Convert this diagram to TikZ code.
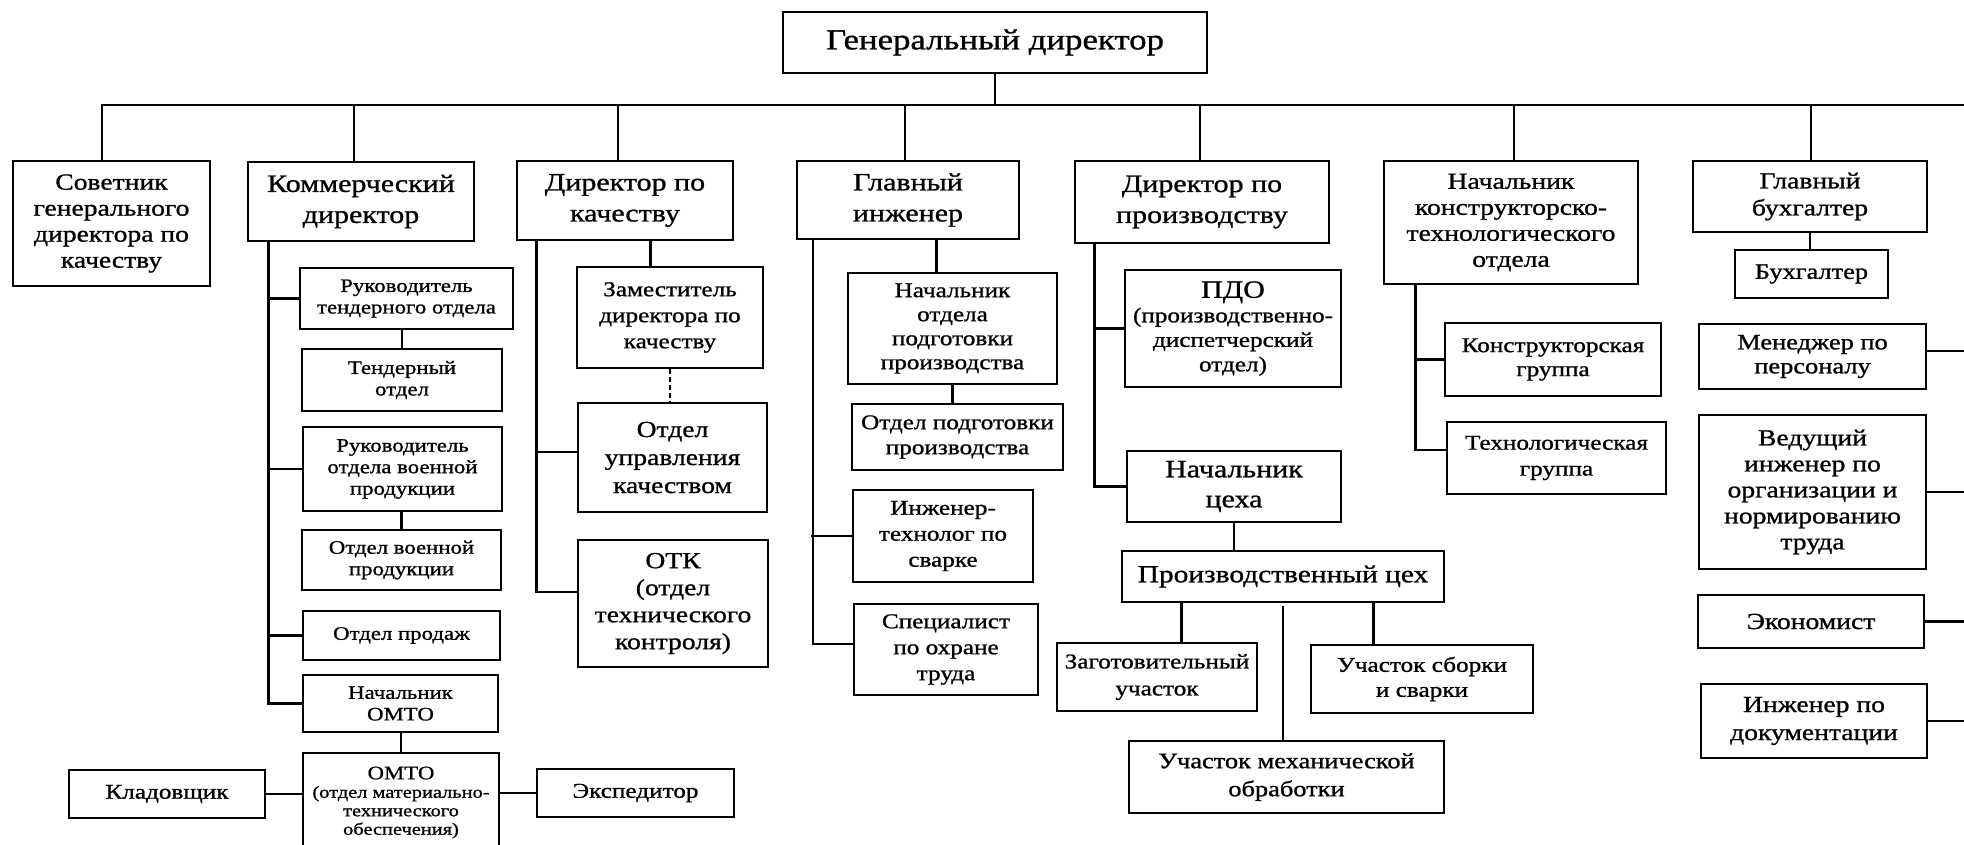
\documentclass[tikz,border=0pt]{standalone}
\usepackage{fontspec}
\setmainfont[FakeStretch=1.2,FakeBold=1]{Liberation Serif}
\usetikzlibrary{calc}
\newcommand\fs[2]{\fontsize{#1}{#2}\selectfont}
\newcommand\bx[7]{%
  \pgfmathsetmacro\bw{#4-#2}\pgfmathsetmacro\bh{#5-#3}%
  \pgfmathsetmacro\bcx{(#2+#4)/2}\pgfmathsetmacro\bcy{(#3+#5)/2}%
  \node[box,#6,minimum width=\bw pt,minimum height=\bh pt] (#1) at (\bcx,\bcy) {#7};}
\tikzset{
  box/.style={draw=black, line width=2.8pt, inner sep=0pt, align=center, fill=white},
  conn/.style={draw=black, line width=2.4pt, line cap=rect},
  fA/.style={font=\fs{29}{34}},
  fB/.style={font=\fs{25}{31}},
  fC/.style={font=\fs{23}{27}},
  fD/.style={font=\fs{21}{25}},
  fE/.style={font=\fs{19}{21.5}},
  fF/.style={font=\fs{17}{18.5}},
}
\begin{document}
\begin{tikzpicture}[x=1pt,y=-1pt]
\useasboundingbox (0,0) rectangle (1964,844);
\fill[white] (0,0) rectangle (1964,844);
\coordinate (busR) at (1964,105);
\coordinate (redge) at (1964,0);
% --- boxes
\bx{gd}{783}{12}{1207}{73}{fA}{Генеральный директор}
\bx{sov}{13}{161}{210}{286}{font=\fs{23}{26}}{Советник\\генерального\\директора по\\качеству}
\bx{kom}{248}{162}{474}{241}{fB}{Коммерческий\\директор}
\bx{dq}{517}{161}{733}{240}{fB}{Директор по\\качеству}
\bx{gi}{797}{161}{1019}{239}{fB}{Главный\\инженер}
\bx{dp}{1075}{161}{1329}{243}{fB}{Директор по\\производству}
\bx{kto}{1384}{161}{1638}{284}{font=\fs{23}{26}}{Начальник\\конструкторско-\\технологического\\отдела}
\bx{gb}{1693}{161}{1927}{232}{fC}{Главный\\бухгалтер}
% commercial
\bx{rt}{300}{268}{513}{329}{fE}{Руководитель\\тендерного отдела}
\bx{td}{302}{349}{502}{411}{fE}{Тендерный\\отдел}
\bx{rv}{303}{427}{502}{511}{fE}{Руководитель\\отдела военной\\продукции}
\bx{ov}{302}{530}{501}{590}{fE}{Отдел военной\\продукции}
\bx{op}{303}{611}{500}{660}{fE}{Отдел продаж}
\bx{nomto}{303}{675}{498}{732}{fE}{Начальник\\ОМТО}
\bx{omto}{303}{753}{499}{852}{fF}{{\fs{19}{20}ОМТО}\\(отдел материально-\\технического\\обеспечения)}
\bx{kl}{69}{770}{265}{818}{fD}{Кладовщик}
\bx{exp}{537}{769}{734}{817}{fD}{Экспедитор}
% quality
\bx{zam}{577}{267}{763}{368}{font=\fs{21}{26}}{Заместитель\\директора по\\качеству}
\bx{oup}{578}{403}{767}{512}{font=\fs{23}{28}}{Отдел\\управления\\качеством}
\bx{otk}{578}{540}{768}{667}{fC}{ОТК\\(отдел\\технического\\контроля)}
% chief engineer
\bx{nop}{848}{273}{1057}{384}{font=\fs{21}{24}}{Начальник\\отдела\\подготовки\\производства}
\bx{opp}{852}{404}{1063}{470}{fD}{Отдел подготовки\\производства}
\bx{it}{853}{490}{1033}{582}{font=\fs{21}{26}}{Инженер-\\технолог по\\сварке}
\bx{sp}{854}{604}{1038}{695}{font=\fs{21}{26}}{Специалист\\по охране\\труда}
% production
\bx{pdo}{1125}{270}{1341}{387}{font=\fs{21}{24.5}}{{\fs{25}{26}ПДО}\\(производственно-\\диспетчерский\\отдел)}
\bx{nc}{1127}{451}{1341}{522}{font=\fs{25}{30}}{Начальник\\цеха}
\bx{pc}{1122}{551}{1444}{602}{font=\fs{24.5}{28}}{Производственный цех}
\bx{zag}{1057}{643}{1257}{711}{font=\fs{21}{27}}{Заготовительный\\участок}
\bx{sb}{1311}{645}{1533}{713}{fD}{Участок сборки\\и сварки}
\bx{mex}{1129}{741}{1444}{813}{font=\fs{22}{28}}{Участок механической\\обработки}
% KTO
\bx{kg}{1445}{323}{1661}{396}{font=\fs{21}{24}}{Конструкторская\\группа}
\bx{tg}{1447}{422}{1666}{494}{font=\fs{21}{26}}{Технологическая\\группа}
% accounting column
\bx{bh}{1735}{250}{1888}{298}{font=\fs{22}{26}}{Бухгалтер}
\bx{mp}{1699}{324}{1926}{389}{font=\fs{22}{24}}{Менеджер по\\персоналу}
\bx{vi}{1699}{415}{1926}{569}{font=\fs{23}{26}}{Ведущий\\инженер по\\организации и\\нормированию\\труда}
\bx{ek}{1698}{595}{1924}{648}{font=\fs{23}{26}}{Экономист}
\bx{id}{1701}{684}{1927}{758}{font=\fs{23}{28}}{Инженер по\\документации}
% --- connectors
\draw[conn, line width=2pt] ([xshift=-9.5pt]sov.north) |- (busR);
\draw[conn] (gd.south) -- (gd.south |- busR);
\draw[conn] ([xshift=-7pt]kom.north) -- ([xshift=-7pt]kom.north |- busR);
\draw[conn] ([xshift=-7pt]dq.north) -- ([xshift=-7pt]dq.north |- busR);
\draw[conn] ([xshift=-3pt]gi.north) -- ([xshift=-3pt]gi.north |- busR);
\draw[conn] ([xshift=-2pt]dp.north) -- ([xshift=-2pt]dp.north |- busR);
\draw[conn] ([xshift=3pt]kto.north) -- ([xshift=3pt]kto.north |- busR);
\draw[conn, line width=2pt] ([xshift=1pt]gb.north) -- ([xshift=1pt]gb.north |- busR);
% commercial trunk
\coordinate (kt) at ($(kom.south west)+(22,0)$);
\draw[conn] (kt) |- (nomto.west);
\draw[conn] (kt |- rt.west) -- (rt.west);
\draw[conn] (kt |- rv.west) -- (rv.west);
\draw[conn] (kt |- op.west) -- (op.west);
\draw[conn] (td.north |- rt.south) -- (td.north);
\draw[conn] (ov.north |- rv.south) -- (ov.north);
\draw[conn] (omto.north |- nomto.south) -- (omto.north);
\draw[conn] (kl.east) -- (kl.east -| omto.west);
\draw[conn] (omto.east |- exp.west) -- (exp.west);
% quality
\coordinate (qt) at ($(dq.south west)+(21,0)$);
\draw[conn] (qt) |- ([yshift=11.5pt]otk.west);
\draw[conn] ([yshift=5.5pt]oup.west -| qt) -- ([yshift=5.5pt]oup.west);
\coordinate (qz) at ($(dq.south west)+(135,0)$);
\draw[conn] (qz) -- (qz |- zam.north);
\draw[line width=1.6pt, dash pattern=on 5pt off 3pt] (zam.south) -- (zam.south |- oup.north);
% chief engineer
\coordinate (gt) at ($(gi.south west)+(17,0)$);
\draw[conn, line width=2pt] (gt) |- ([yshift=5.5pt]sp.west);
\draw[conn] (gt |- it.west) -- (it.west);
\coordinate (gz) at ($(gi.south west)+(141,0)$);
\draw[conn] (gz) -- (gz |- nop.north);
\draw[conn] (nop.south) -- (nop.south |- opp.north);
% production
\coordinate (pt) at ($(dp.south west)+(21,0)$);
\draw[conn] (pt) |- (nc.west);
\draw[conn] (pt |- pdo.west) -- (pdo.west);
\draw[conn] (nc.south) -- (nc.south |- pc.north);
\coordinate (pz) at ($(pc.south west)+(61,0)$);
\draw[conn] (pz) -- (pz |- zag.north);
\coordinate (ps) at ($(pc.south west)+(253,0)$);
\draw[conn] (ps) -- (ps |- sb.north);
\draw[conn] ([yshift=-4pt]pc.south) -- (pc.south |- mex.north);
% KTO
\coordinate (kk) at ($(kto.south west)+(33,0)$);
\draw[conn] (kk) |- ([yshift=8pt]tg.west);
\draw[conn] (kk |- kg.west) -- (kg.west);
% accounting
\draw[conn] (gb.south) -- (gb.south |- bh.north);
\draw[conn] ([yshift=5.5pt]mp.east) -- ([yshift=5.5pt]mp.east -| redge);
\draw[conn] (vi.east) -- (vi.east -| redge);
\draw[conn] (ek.east) -- (ek.east -| redge);
\draw[conn] (id.east) -- (id.east -| redge);
\end{tikzpicture}
\end{document}
